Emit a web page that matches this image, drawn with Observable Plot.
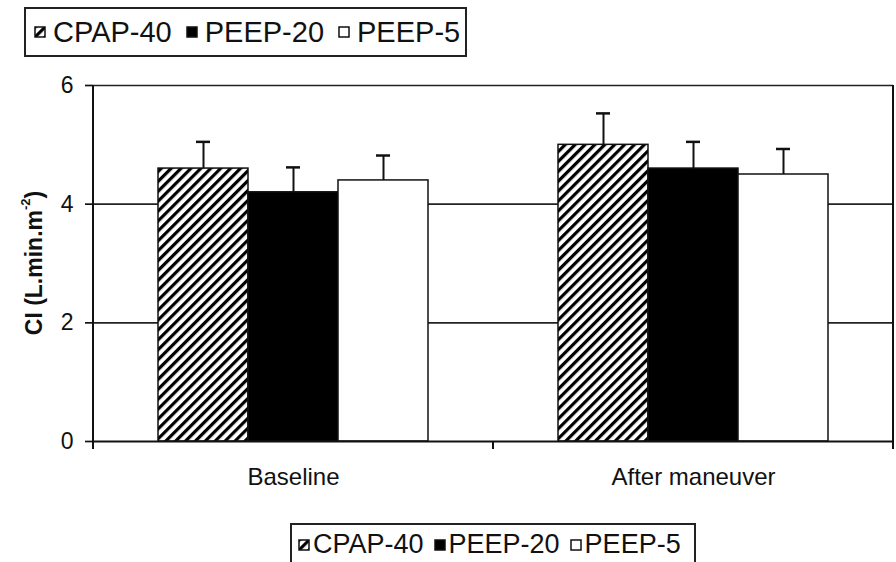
<!DOCTYPE html>
<html>
<head>
<meta charset="utf-8">
<script src="https://cdn.jsdelivr.net/npm/d3@7"></script>
<script src="https://cdn.jsdelivr.net/npm/@observablehq/plot@0.6"></script>
<style>
  body { margin: 0; background: #fff; font-family: "Liberation Sans", Arial, sans-serif; color: #111; width: 896px; height: 562px; overflow: hidden; }
  #defs { position: absolute; width: 0; height: 0; }
  #top { position: relative; height: 70px; }
  #bottom { position: relative; height: 42px; margin-top: 3px; }
  .box { position: absolute; box-sizing: border-box; border: 2px solid #222; display: flex; align-items: center; white-space: nowrap; background: #fff; }
  #top .box { left: 24px; top: 7px; width: 443px; height: 50px; font-size: 29px; padding-left: 8px; }
  #bottom .box { left: 290px; top: 0; width: 406px; height: 50px; font-size: 27px; padding-left: 6px; align-items: flex-start; padding-top: 4px; }
  .item { display: flex; align-items: center; }
  #top .item { margin-right: 14px; }
  #bottom .item { margin-right: 10px; }
  .sw { display: block; margin-right: 7px; }
  #bottom .sw { margin-right: 3px; }
  #chart svg { display: block; }
  g[aria-label="fx-axis tick label"] text { font-size: 24px; }
  g[aria-label="y-axis tick label"] text { font-size: 23px; }
</style>
</head>
<body>
<svg id="defs">
  <defs>
    <pattern id="hatch" patternUnits="userSpaceOnUse" width="7" height="7" patternTransform="rotate(45)">
      <rect width="7" height="7" fill="#fff"></rect>
      <rect width="3.2" height="7" fill="#000"></rect>
    </pattern>
  </defs>
</svg>
<div id="top"><div class="box"></div></div>
<div id="chart"></div>
<div id="bottom"><div class="box"></div></div>
<script>
// Cardiac index by ventilation strategy, mean with SD
const categories = ["Baseline", "After maneuver"];
const series = ["CPAP-40", "PEEP-20", "PEEP-5"];
const meanBaseline = [4.6, 4.2, 4.4];
const meanAfter = [5.0, 4.6, 4.5];
const sdBaseline = [0.45, 0.42, 0.42];
const sdAfter = [0.53, 0.45, 0.43];
const seriesFills = ["url(#hatch)", "#000", "#fff"];

const rows = [];
categories.forEach((category, ci) => {
  const means = ci === 0 ? meanBaseline : meanAfter;
  const sds = ci === 0 ? sdBaseline : sdAfter;
  series.forEach((s, i) => rows.push({category, series: s, mean: means[i], sd: sds[i]}));
});

const chart = Plot.plot({
  width: 896,
  height: 450,
  marginTop: 15,
  marginRight: 3,
  marginBottom: 79,
  marginLeft: 93,
  style: {fontFamily: "'Liberation Sans', Arial, sans-serif", fontSize: "20px", color: "#111", background: "#fff"},
  fx: {domain: categories, padding: 0, label: null, tickSize: 0, tickPadding: 26, axis: "bottom"},
  x: {domain: series, paddingInner: 0, paddingOuter: 0.722, axis: null},
  y: {domain: [0, 6], ticks: 3, tickSize: 8, tickPadding: 12, label: null},
  color: {domain: series, range: seriesFills},
  marks: [
    Plot.ruleY([2, 4, 6], {stroke: "#222", strokeWidth: 1.7}),
    Plot.barY(rows, {fx: "category", x: "series", y: "mean", fill: "series", stroke: "#111", strokeWidth: 1.5}),
    Plot.ruleX(rows, {fx: "category", x: "series", y1: "mean", y2: d => d.mean + d.sd, stroke: "#111", strokeWidth: 2}),
    Plot.tickY(rows, {fx: "category", x: "series", y: d => d.mean + d.sd, stroke: "#111", strokeWidth: 2.5, insetLeft: 38, insetRight: 38}),
    Plot.ruleY([0], {stroke: "#111", strokeWidth: 2})
  ]
});

// Axis frame: left axis, right border and category boundary ticks
const fxs = chart.scale("fx");
const ys = chart.scale("y");
const svg = d3.select(chart);
const y0 = ys.apply(0), yTop = ys.apply(6);
const edges = categories.map(c => fxs.apply(c));
edges.push(fxs.apply(categories[categories.length - 1]) + fxs.bandwidth);
const frame = svg.append("g").attr("stroke", "#111").attr("stroke-width", 2);
frame.append("line").attr("x1", edges[0]).attr("x2", edges[0]).attr("y1", yTop).attr("y2", y0 + 8);
frame.append("line").attr("x1", edges[edges.length - 1]).attr("x2", edges[edges.length - 1]).attr("y1", yTop).attr("y2", y0 + 8);
edges.slice(1, -1).forEach(x => frame.append("line").attr("x1", x).attr("x2", x).attr("y1", y0).attr("y2", y0 + 8));
svg.selectAll('g[aria-label="y-axis tick"] path').attr("stroke-width", 1.7);

// Rotated y label with superscript
const label = svg.append("text")
  .attr("transform", `translate(36,${(y0 + yTop) / 2}) rotate(-90)`)
  .attr("text-anchor", "middle")
  .attr("dominant-baseline", "middle")
  .attr("font-weight", "bold")
  .attr("font-size", 23)
  .attr("fill", "#111");
label.append("tspan").text("CI (L.min.m");
label.append("tspan").attr("font-size", 13).attr("dy", -9).text("-2");
label.append("tspan").attr("dy", 9).text(")");

document.getElementById("chart").appendChild(chart);

// Legends above and below the plot
function fillLegend(box, size) {
  series.forEach((s, i) => {
    const item = box.append("div").attr("class", "item");
    const sw = item.append("svg").attr("class", "sw").attr("width", size).attr("height", size);
    sw.append("rect").attr("x", 1).attr("y", 1).attr("width", size - 2).attr("height", size - 2)
      .attr("fill", seriesFills[i]).attr("stroke", "#111").attr("stroke-width", 1.5);
    item.append("span").text(s);
  });
}
fillLegend(d3.select("#top .box"), 12);
fillLegend(d3.select("#bottom .box"), 12);
</script>
</body>
</html>
